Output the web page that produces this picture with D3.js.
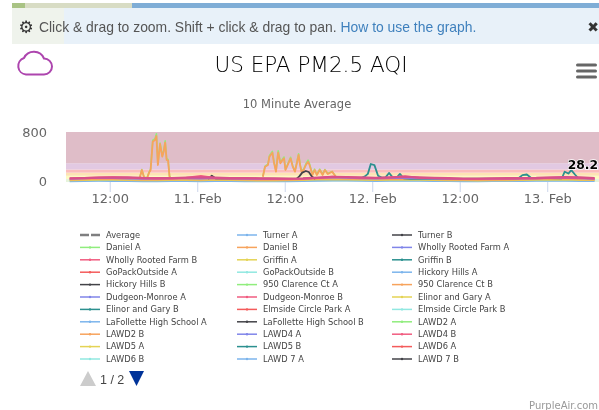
<!DOCTYPE html>
<html>
<head>
<meta charset="utf-8">
<style>
  html, body { margin: 0; padding: 0; background: #fff; overflow: hidden; }
  svg { display: block; filter: blur(0.4px); }
  .ui { font-family: "DejaVu Sans", sans-serif; }
  .banner { font-family: "Liberation Sans", Arial, sans-serif; font-size: 13.9px; }
</style>
<script src="https://cdnjs.cloudflare.com/ajax/libs/d3/7.8.5/d3.min.js"></script>
</head>
<body>
<div class="canvas"></div>
<script>
// legend order, read row by row
const legendNames = [
  'Average', 'Turner A', 'Turner B',
  'Daniel A', 'Daniel B', 'Wholly Rooted Farm A',
  'Wholly Rooted Farm B', 'Griffin A', 'Griffin B',
  'GoPackOutside A', 'GoPackOutside B', 'Hickory Hills A',
  'Hickory Hills B', '950 Clarence Ct A', '950 Clarence Ct B',
  'Dudgeon-Monroe A', 'Dudgeon-Monroe B', 'Elinor and Gary A',
  'Elinor and Gary B', 'Elmside Circle Park A', 'Elmside Circle Park B',
  'LaFollette High School A', 'LaFollette High School B', 'LAWD2 A',
  'LAWD2 B', 'LAWD4 A', 'LAWD4 B',
  'LAWD5 A', 'LAWD5 B', 'LAWD6 A',
  'LAWD6 B', 'LAWD 7 A', 'LAWD 7 B'
];
const seriesColors = ['#7cb5ec', '#434348', '#90ed7d', '#f7a35c', '#8085e9', '#f15c80', '#e4d354', '#2b908f', '#f45b5b', '#91e8e1'];

// AQI bands (lower, upper, colour)
const bandLimits = [0, 50, 100, 150, 200, 300, 800];
const bandColors = ['#e6f4dc', '#fdfbc0', '#fde3b4', '#fbbcbc', '#e2c9e2', '#dfbdc8'];

const yTicks = [0, 800];
const xTickHours = [0, 12, 24, 36, 48, 60, 72];
const xTickLabels = ['12:00', '11. Feb', '12:00', '12. Feb', '12:00', '13. Feb', '12:00'];

// all times are hours after 10 Feb 12:00
const burst1Hours = [4.1, 4.4, 4.7, 5.1, 5.4, 5.6, 5.9, 6.2, 6.4, 6.6, 6.9, 7.2, 7.4, 7.6, 7.8, 8.0, 8.2, 8.4];
const danielB1 = [59, 192, 75, 59, 149, 192, 645, 672, 736, 272, 608, 405, 485, 629, 352, 341, 85, 48];
const danielA1 = [62, 200, 80, 64, 158, 205, 668, 690, 770, 290, 622, 420, 500, 660, 372, 360, 95, 50];

const burst2Hours = [21.0, 21.3, 21.7, 21.9, 22.3, 22.5, 22.8, 22.95, 23.1, 23.4, 23.7, 23.9, 24.1, 24.5, 24.8, 25.1, 25.4, 25.7, 25.9, 26.1, 26.3, 26.6, 26.9, 27.2, 27.4, 27.8, 28.1, 28.4, 28.8, 29.2, 29.5, 29.9, 30.5, 31.0];
const danielB2 = [85, 245, 272, 405, 469, 325, 165, 325, 469, 299, 352, 379, 192, 299, 379, 245, 165, 325, 432, 272, 165, 192, 272, 325, 272, 112, 192, 112, 192, 112, 192, 128, 165, 85];
const danielA2 = [90, 255, 285, 420, 490, 340, 175, 340, 500, 310, 365, 400, 200, 310, 395, 255, 175, 340, 450, 285, 175, 205, 290, 350, 290, 125, 205, 120, 205, 125, 200, 135, 170, 90];

const griffinBHours = [34.4, 35.0, 35.4, 35.8, 36.3, 36.8, 37.3, 37.8, 38.3, 38.8, 39.3, 39.8, 40.3, 40.8, 41.3, 56.0, 56.6, 57.2, 57.8, 62.0, 62.4, 62.9, 63.3, 63.8, 64.3];
const griffinBValues = [60, 90, 130, 288, 270, 100, 70, 70, 145, 75, 62, 130, 60, 55, 50, 55, 110, 120, 65, 60, 165, 135, 190, 120, 55];

const hickoryBHours = [13.5, 14.0, 14.5, 25.6, 26.0, 26.4, 26.9, 27.3, 27.7, 28.2];
const hickoryBValues = [50, 100, 60, 50, 90, 150, 176, 160, 90, 50];

// slow background levels, one reading every two hours
const baseHours = [-5.5, -3.5, -1.5, 0.5, 2.5, 4.5, 6.5, 8.5, 10.5, 12.5, 14.5, 16.5, 18.5, 20.5, 22.5, 24.5, 26.5, 28.5, 30.5, 32.5, 34.5, 36.5, 38.5, 40.5, 42.5, 44.5, 46.5, 48.5, 50.5, 52.5, 54.5, 56.5, 58.5, 60.5, 62.5, 64.5, 66.5];
const turnerA = [12, 15, 18, 16, 14, 12, 13, 15, 14, 12, 16, 14, 12, 12, 10, 12, 14, 20, 25, 22, 18, 16, 18, 20, 18, 15, 14, 12, 12, 14, 15, 16, 18, 20, 20, 16, 14];
const griffinA = [28, 32, 36, 34, 30, 26, 28, 32, 30, 28, 34, 30, 26, 24, 24, 26, 30, 38, 42, 38, 34, 32, 34, 36, 34, 30, 28, 26, 24, 26, 28, 30, 34, 36, 38, 32, 30];
const lawd2B = [38, 44, 50, 48, 42, 38, 40, 46, 44, 40, 48, 42, 38, 36, 34, 36, 42, 52, 58, 52, 46, 44, 46, 50, 46, 42, 38, 36, 34, 36, 38, 42, 46, 50, 52, 44, 40];
const dudgeonA = [50, 58, 66, 64, 56, 52, 54, 58, 60, 54, 62, 54, 50, 48, 46, 48, 54, 66, 76, 66, 60, 56, 62, 64, 58, 54, 50, 48, 46, 48, 50, 54, 60, 64, 66, 58, 52];
const whollyB = [55, 66, 74, 76, 68, 58, 54, 56, 68, 96, 64, 56, 58, 54, 50, 48, 52, 62, 84, 74, 66, 62, 72, 92, 66, 62, 54, 50, 48, 54, 54, 56, 58, 66, 74, 66, 54];
const lawd6A = [58, 62, 70, 72, 74, 64, 60, 62, 70, 72, 70, 62, 62, 58, 56, 54, 58, 70, 80, 78, 72, 66, 74, 82, 72, 64, 60, 54, 54, 58, 60, 62, 64, 72, 76, 72, 60];

const lastValue = 28.2;

const width = 599, height = 410;
const plot = {left: 66, right: 599, top: 132, bottom: 182};

const svg = d3.select('.canvas').append('svg')
    .attr('width', width).attr('height', height);

// banner across the top, map shows through on the left
svg.append('rect').attr('x', 12).attr('y', 3).attr('width', 587).attr('height', 5).attr('fill', '#7fadd6');
svg.append('rect').attr('x', 12).attr('y', 3).attr('width', 120).attr('height', 5).attr('fill', '#d8dcc4');
svg.append('rect').attr('x', 12).attr('y', 3).attr('width', 13).attr('height', 5).attr('fill', '#a9c384');
svg.append('rect').attr('x', 12).attr('y', 8).attr('width', 587).attr('height', 36).attr('fill', '#e8f1f9');
svg.append('rect').attr('x', 12).attr('y', 8).attr('width', 52).attr('height', 36).attr('fill', '#eff3ec');

svg.append('text').attr('x', 26).attr('y', 33).attr('text-anchor', 'middle')
    .style('font-family', '"DejaVu Sans"').style('font-size', '17px').attr('fill', '#333').text('\u2699');
const bannerText = svg.append('text').attr('class', 'banner').attr('x', 39).attr('y', 32).attr('fill', '#555');
bannerText.append('tspan').text('Click & drag to zoom. Shift + click & drag to pan. ');
bannerText.append('tspan').attr('fill', '#3f80bd').text('How to use the graph.');
svg.append('text').attr('x', 593).attr('y', 32).attr('text-anchor', 'middle')
    .style('font-family', '"DejaVu Sans"').style('font-size', '14px').style('font-weight', 'bold').attr('fill', '#333').text('\u2716');

// cloud icon
svg.append('path')
    .attr('d', 'M26 74.5 A8.5 8.5 0 0 1 24 58 A11 11 0 0 1 44 58.5 A8 8 0 0 1 44 74.5 Z')
    .attr('fill', 'none').attr('stroke', '#ad45ae').attr('stroke-width', 2);

svg.append('text').attr('class', 'ui').attr('x', 311).attr('y', 72).attr('text-anchor', 'middle')
    .style('font-size', '21.5px').style('font-weight', '300').attr('fill', '#000').text('US EPA PM2.5 AQI');
svg.append('text').attr('class', 'ui').attr('x', 297).attr('y', 108).attr('text-anchor', 'middle')
    .style('font-size', '11.5px').attr('fill', '#666').text('10 Minute Average');

// hamburger menu
svg.selectAll('.burger').data([65, 71, 77]).enter().append('rect')
    .attr('class', 'burger').attr('x', 576).attr('y', d => d - 1.6)
    .attr('width', 21).attr('height', 3.2).attr('rx', 1.5).attr('fill', '#666');

const x = d3.scaleLinear().domain([-6, 67.1]).range([plot.left, plot.right]);
const y = d3.scaleLinear().domain([0, 800]).range([plot.bottom, plot.top]);

const graph = svg.append('g');

graph.selectAll('.band').data(bandColors).enter().append('rect')
    .attr('class', 'band')
    .attr('x', plot.left).attr('width', plot.right - plot.left)
    .attr('y', (d, i) => y(bandLimits[i + 1]))
    .attr('height', (d, i) => y(bandLimits[i]) - y(bandLimits[i + 1]))
    .attr('fill', d => d);

const xAxis = d3.axisBottom(x)
    .tickValues(xTickHours.filter(h => h < 67))
    .tickFormat((d, i) => xTickLabels[i])
    .tickSize(10).tickPadding(2);
const xG = svg.append('g').attr('transform', `translate(0,${plot.bottom})`).call(xAxis);
xG.select('.domain').remove();
xG.selectAll('line').attr('stroke', '#ccd6eb');
xG.selectAll('text').attr('class', 'ui').style('font-size', '13px').attr('fill', '#666');

const yAxis = d3.axisLeft(y).tickValues(yTicks).tickSize(0).tickPadding(0);
const yG = svg.append('g').attr('transform', 'translate(47,0)').call(yAxis);
yG.select('.domain').remove();
yG.selectAll('text').attr('class', 'ui').style('font-size', '13px').attr('fill', '#666');
yG.selectAll('.tick').filter(d => d === 0).select('text').attr('dy', '0.25em');

const line = d3.line().x(d => x(d[0])).y(d => y(d[1]));
const zip = (hours, values) => hours.map((h, i) => [h, values[i]]);

const drawn = [
  [burst1Hours, danielA1, '#90ed7d', 1.6],
  [burst2Hours, danielA2, '#90ed7d', 1.6],
  [burst1Hours, danielB1, '#f7a35c', 1.8],
  [burst2Hours, danielB2, '#f7a35c', 1.8],
  [baseHours, turnerA, '#7cb5ec', 2],
  [baseHours, griffinA, '#e4d354', 2],
  [baseHours, lawd2B, '#f7a35c', 2],
  [griffinBHours, griffinBValues, '#2b908f', 1.8],
  [hickoryBHours, hickoryBValues, '#434348', 1.8],
  [baseHours, dudgeonA, '#8085e9', 2],
  [baseHours, whollyB, '#f15c80', 2],
  [baseHours, lawd6A, '#d9508a', 2.4]
];

graph.selectAll('.series').data(drawn).enter().append('path')
    .attr('class', 'series')
    .attr('d', d => line(zip(d[0], d[1])))
    .attr('fill', 'none')
    .attr('stroke', d => d[2])
    .attr('stroke-width', d => d[3])
    .attr('stroke-linejoin', 'round');

// value label of the last point
svg.append('text').attr('class', 'ui').attr('x', 598).attr('y', 168.5).attr('text-anchor', 'end')
    .style('font-size', '12.3px').style('font-weight', 'bold')
    .attr('fill', '#000').attr('stroke', '#fff').attr('stroke-width', 1.5).attr('paint-order', 'stroke')
    .text(lastValue);

// legend, three columns of eleven rows
const legendCols = [80, 237, 392];
const legend = svg.selectAll('.legend-item').data(legendNames).enter().append('g')
    .attr('class', 'legend-item')
    .attr('transform', (d, i) => `translate(${legendCols[i % 3]},${235 + Math.floor(i / 3) * 12.4})`);

legend.append('line')
    .attr('x1', 0).attr('x2', 20)
    .attr('stroke', (d, i) => i === 0 ? '#7f7f80' : seriesColors[(i - 1) % 10])
    .attr('stroke-width', (d, i) => i === 0 ? 2.4 : 1.5)
    .attr('stroke-dasharray', (d, i) => i === 0 ? '9,2' : null);
legend.filter((d, i) => i > 0).append('circle')
    .attr('cx', 10).attr('r', 1.2)
    .attr('fill', (d, i) => seriesColors[i % 10]);
legend.append('text').attr('class', 'ui').attr('x', 26).attr('dy', '0.34em')
    .style('font-size', '8.3px').attr('fill', '#444').text(d => d);

// pager
svg.append('path').attr('d', d3.line()([[80, 386], [96, 386], [88, 371]])).attr('fill', '#ccc');
svg.append('text').attr('x', 100).attr('y', 384)
    .style('font-family', '"Liberation Sans"').style('font-size', '12.5px').attr('fill', '#444').text('1 / 2');
svg.append('path').attr('d', d3.line()([[129, 371], [144, 371], [136.5, 386]])).attr('fill', '#003399');

svg.append('text').attr('class', 'ui').attr('x', 598).attr('y', 409).attr('text-anchor', 'end')
    .style('font-size', '10px').attr('fill', '#999').text('PurpleAir.com');
</script>
</body>
</html>
